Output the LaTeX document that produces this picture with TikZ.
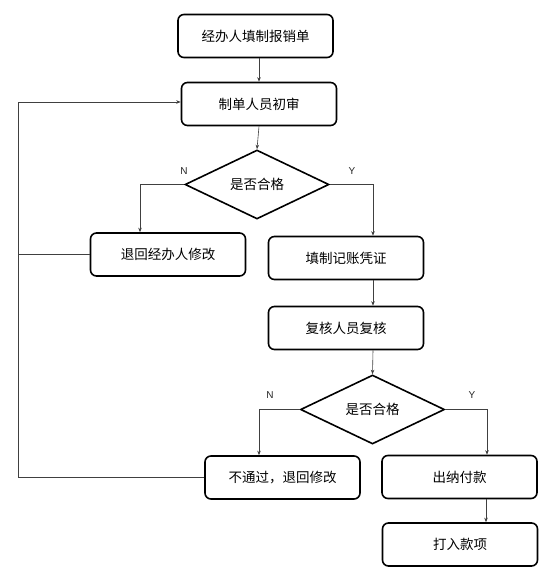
\documentclass[tikz,border=0pt]{standalone}
\usepackage{fontspec}
\setmainfont{Liberation Sans}
\newfontfamily\cjk{Noto Sans CJK SC}
\usetikzlibrary{shapes.geometric,arrows.meta}
\begin{document}
\begin{tikzpicture}[x=1pt,y=-1pt,
  box/.style={draw=black,line width=1.6pt,rounded corners=6pt,minimum width=155pt,minimum height=43pt,inner sep=0pt,font=\cjk\fontsize{13.5}{15}\selectfont},
  dia/.style={draw=black,line width=1.6pt,diamond,aspect=2.1,minimum width=144pt,minimum height=69pt,inner sep=0pt,font=\cjk\fontsize{13.5}{15}\selectfont},
  conn/.style={draw=black!75,line width=0.6pt},
  arr/.style={conn,-{Stealth[length=4.5pt,width=3.5pt]}},
  yn/.style={font=\fontsize{10}{11}\selectfont,text=black!85}]
\useasboundingbox (0,0) rectangle (549,576);
\node[box] (b1) at (255.5,36) {经办人填制报销单};
\node[box] (b2) at (259,104) {制单人员初审};
\node[dia] (d1) at (257,184.5) {是否合格};
\node[box] (b3) at (168,254.5) {退回经办人修改};
\node[box] (b4) at (346,258) {填制记账凭证};
\node[box] (b5) at (346,328) {复核人员复核};
\node[dia] (d2) at (372.5,409.5) {是否合格};
\node[box] (b6) at (282.5,477.5) {不通过，退回修改};
\node[box] (b7) at (459.5,477) {出纳付款};
\node[box] (b8) at (460,544.5) {打入款项};
\node[yn] (n1) at (184,171.5) {N};
\node[yn] (y1) at (352,171.5) {Y};
\node[yn] (n2) at (270,395.5) {N};
\node[yn] (y2) at (472,395.5) {Y};
\coordinate (c1) at (18,477.5);
\coordinate (c2) at (18,102);
\coordinate (c3) at (18,254.5);
\draw[arr] (b1.south -| 259,0) -- (b2.north);
\draw[arr] (b2.south) -- (d1.north);
\draw[arr] (d1.west) -| (b3.north -| 140,0);
\draw[arr] (d1.east) -| (b4.north -| 373,0);
\draw[arr] (b4.south -| 373,0) -- (b5.north -| 373,0);
\draw[arr] (b5.south -| 373,0) -- (d2.north);
\draw[arr] (d2.west) -| (b6.north -| 259,0);
\draw[arr] (d2.east) -| (b7.north -| 487,0);
\draw[arr] (b7.south -| 486,0) -- (b8.north -| 486,0);
\draw[arr] (b6.west) -- (c1) -- (c2) -- (b2.west |- c2);
\draw[conn] (b3.west) -- (c3);
\end{tikzpicture}
\end{document}
